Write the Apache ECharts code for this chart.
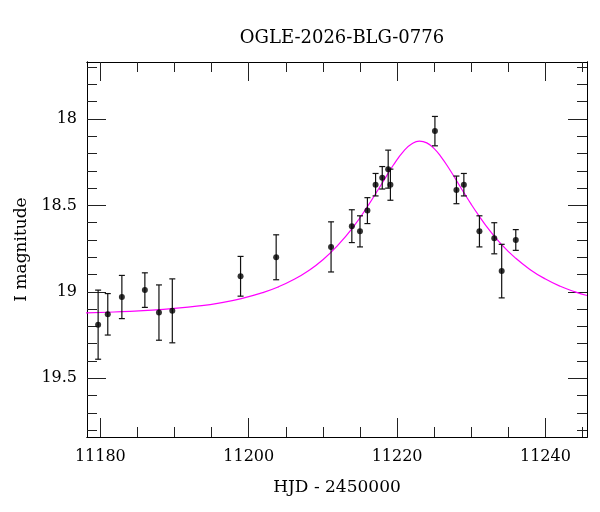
<!DOCTYPE html>
<html>
<head>
<meta charset="utf-8">
<script src="https://cdn.jsdelivr.net/npm/echarts@6/dist/echarts.min.js"></script>
<style>
  html, body { margin: 0; padding: 0; background: #fff; }
  #chart { width: 600px; height: 512px; }
</style>
</head>
<body>
<div id="chart"></div>
<script>
// photometry points (HJD - 2450000, I mag, error)
var obsDays = [11179.7, 11181.0, 11182.9, 11186.0, 11187.9, 11189.7, 11198.9, 11203.7,
    11211.1, 11213.9, 11215.0, 11216.0, 11217.1, 11218.0, 11218.8, 11219.1,
    11225.1, 11228.0, 11229.0, 11231.1, 11233.1, 11234.1, 11236.0];
var obsMags = [19.19, 19.13, 19.03, 18.99, 19.12, 19.11, 18.91, 18.80,
    18.74, 18.62, 18.65, 18.53, 18.38, 18.34, 18.29, 18.38,
    18.07, 18.41, 18.38, 18.65, 18.69, 18.88, 18.70];
var obsErrs = [0.20, 0.12, 0.125, 0.10, 0.16, 0.185, 0.115, 0.13,
    0.145, 0.095, 0.09, 0.075, 0.065, 0.065, 0.11, 0.09,
    0.085, 0.08, 0.065, 0.09, 0.09, 0.155, 0.06];

// model curve
var modelDays = [11178, 11181, 11184, 11187, 11190, 11193, 11196, 11199,
    11202, 11204, 11206, 11208, 11210, 11212, 11214, 11216,
    11218, 11219.5, 11221, 11222, 11223, 11224, 11225, 11226,
    11227, 11228, 11229, 11230, 11231, 11232, 11234, 11236,
    11238, 11240, 11242, 11244, 11245.6];
var modelMags = [19.122, 19.118, 19.113, 19.106, 19.096, 19.083, 19.065, 19.039,
    19.003, 18.971, 18.930, 18.879, 18.814, 18.731, 18.630, 18.507,
    18.370, 18.266, 18.180, 18.143, 18.128, 18.138, 18.171, 18.223,
    18.286, 18.356, 18.426, 18.494, 18.558, 18.618, 18.722, 18.806,
    18.873, 18.926, 18.968, 19.000, 19.021];

// ticks
var xMajor = [11180, 11200, 11220, 11240];
var xMinor = [11185, 11190, 11195, 11205, 11210, 11215, 11225, 11230, 11235, 11245];
var yMajor = [18, 18.5, 19, 19.5];
var yMinor = [17.7, 17.8, 17.9, 18.1, 18.2, 18.3, 18.4, 18.6, 18.7, 18.8, 18.9,
    19.1, 19.2, 19.3, 19.4, 19.6, 19.7, 19.8];

var XMIN = 11178.2, XMAX = 11245.6;
var YMIN = 17.67, YMAX = 19.84;

var serif = 'DejaVu Serif';
var ink = '#000';

function xAx(pos, ticks, len, labels) {
    return {
        type: 'value', min: XMIN, max: XMAX, position: pos,
        axisLine: { show: true, onZero: false, lineStyle: { color: ink, width: 1 } },
        axisTick: { show: true, inside: true, length: len, customValues: ticks,
            lineStyle: { color: '#222', width: 1 } },
        axisLabel: { show: labels, customValues: ticks, margin: 12,
            fontFamily: serif, fontSize: 16, color: ink,
            formatter: function (v) { return String(v); } },
        splitLine: { show: false }
    };
}

function yAx(pos, ticks, len, labels) {
    return {
        type: 'value', min: YMIN, max: YMAX, inverse: true, position: pos,
        axisLine: { show: true, onZero: false, lineStyle: { color: ink, width: 1 } },
        axisTick: { show: true, inside: true, length: len, customValues: ticks,
            lineStyle: { color: '#222', width: 1 } },
        axisLabel: { show: labels, customValues: ticks, margin: 10,
            fontFamily: serif, fontSize: 16, color: ink,
            formatter: function (v) { return String(v); } },
        splitLine: { show: false }
    };
}

var xBottom = xAx('bottom', xMajor, 19, true);
xBottom.name = 'HJD - 2450000';
xBottom.nameLocation = 'middle';
xBottom.nameGap = 42;
xBottom.nameTextStyle = { fontFamily: serif, fontSize: 17, color: ink };

var yLeft = yAx('left', yMajor, 19, true);
yLeft.name = 'I magnitude';
yLeft.nameLocation = 'middle';
yLeft.nameGap = 56;
yLeft.nameTextStyle = { fontFamily: serif, fontSize: 17, color: ink };

var errData = obsDays.map(function (d, i) {
    return [d, obsMags[i] - obsErrs[i], obsMags[i] + obsErrs[i]];
});

var myChart = echarts.init(document.getElementById('chart'), null, { renderer: 'canvas' });

myChart.setOption({
    animation: false,
    backgroundColor: '#fff',
    title: {
        text: 'OGLE-2026-BLG-0776',
        left: 337, top: 24, textAlign: 'center',
        textStyle: { fontFamily: serif, fontSize: 18, fontWeight: 'normal', color: ink }
    },
    grid: { left: 87, right: 13, top: 62, bottom: 75 },
    xAxis: [
        xBottom,
        xAx('bottom', xMinor, 10, false),
        xAx('top', xMajor, 19, false),
        xAx('top', xMinor, 10, false)
    ],
    yAxis: [
        yLeft,
        yAx('left', yMinor, 10, false),
        yAx('right', yMajor, 19, false),
        yAx('right', yMinor, 10, false)
    ],
    series: [
        {
            type: 'line',
            data: modelDays.map(function (d, i) { return [d, modelMags[i]]; }),
            smooth: true,
            showSymbol: false,
            clip: true,
            lineStyle: { color: '#ff00ff', width: 1.2 },
            z: 2
        },
        {
            type: 'custom',
            data: errData,
            encode: { x: 0, y: [1, 2] },
            renderItem: function (params, api) {
                var x = api.value(0);
                var top = api.coord([x, api.value(1)]);
                var bot = api.coord([x, api.value(2)]);
                var w = 3;
                var st = { stroke: '#111', lineWidth: 1.2 };
                return {
                    type: 'group',
                    children: [
                        { type: 'line', shape: { x1: top[0], y1: top[1], x2: bot[0], y2: bot[1] }, style: st },
                        { type: 'line', shape: { x1: top[0] - w, y1: top[1], x2: top[0] + w, y2: top[1] }, style: st },
                        { type: 'line', shape: { x1: bot[0] - w, y1: bot[1], x2: bot[0] + w, y2: bot[1] }, style: st }
                    ]
                };
            },
            z: 3
        },
        {
            type: 'scatter',
            data: obsDays.map(function (d, i) { return [d, obsMags[i]]; }),
            symbol: 'circle',
            symbolSize: 6,
            itemStyle: { color: '#000' },
            z: 4
        }
    ]
});
</script>
</body>
</html>
